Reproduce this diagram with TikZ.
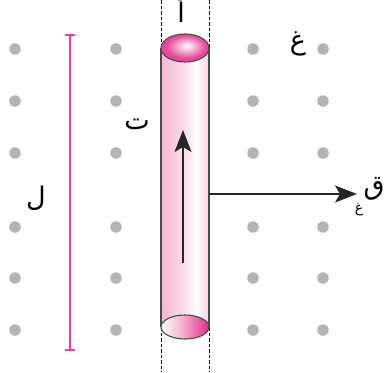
\documentclass[tikz,border=0pt]{standalone}
\usepackage{fontspec}
\newfontfamily\arabicfont[Script=Arabic]{DejaVu Sans}
\TeXXeTstate=1
\usetikzlibrary{arrows.meta}
\definecolor{dotgray}{HTML}{B4B4B8}
\definecolor{rodpink}{HTML}{F4B8D3}
\definecolor{rodmag}{HTML}{E02E8A}
\definecolor{rodedge}{HTML}{4A4A4A}
\definecolor{barpink}{HTML}{EE3C98}
% rod body: pink edges with a bright stripe right of centre
\pgfdeclarehorizontalshading{rodbody}{100bp}{%
  color(0bp)=(rodpink);
  color(25bp)=(rodpink);
  color(50bp)=(rodpink!45!white);
  color(62bp)=(white);
  color(75bp)=(rodpink!65!white);
  color(100bp)=(rodpink)}
% bottom face: pale on the left, magenta on the right
\pgfdeclarehorizontalshading{rodbase}{100bp}{%
  color(0bp)=(white);
  color(25bp)=(white);
  color(45bp)=(rodpink);
  color(75bp)=(rodmag);
  color(100bp)=(rodmag)}
\pgfdeclareradialshading{rodtop}{\pgfpoint{2bp}{4bp}}{%
  color(0bp)=(white);
  color(5bp)=(rodpink!60!white);
  color(20bp)=(rodmag!85!white);
  color(50bp)=(rodmag)}
\tikzset{
  fielddot/.style={circle,fill=dotgray,inner sep=0pt,minimum size=11.5pt},
  lbl/.style={inner sep=0pt,font=\arabicfont\fontsize{27}{30}\selectfont},
  sublbl/.style={inner sep=0pt,font=\arabicfont\fontsize{14}{16}\selectfont},
  rodline/.style={draw=rodedge,line width=1.1pt},
  guide/.style={draw=black,line width=1pt,dash pattern=on 3.5pt off 2pt},
  vec/.style={draw=black!85,line width=1.3pt,-{Stealth[length=22pt,width=17pt,inset=5pt]}},
}
\begin{document}
\begin{tikzpicture}[x=1pt,y=-1pt]
\useasboundingbox (0,0) rectangle (388,372);
\clip (0,0) rectangle (388,372);

% grid of field dots (field lines pointing out of the page)
\foreach \cx in {15,116,253,323}{
  \foreach \cy in {49,101,153,227,278,330}{
    \node[fielddot] at (\cx,\cy) {};
  }
}

% length marker
\draw[barpink,line width=1.1pt] (70,35) -- (70,350);
\draw[barpink,line width=1.1pt] (65,35) -- (75,35);
\draw[barpink,line width=1.1pt] (65,350) -- (75,350);
\node[lbl] (lenlbl) at (36,198) {\beginR ل\endR};

% dashed guides above and below the rod
\draw[guide] (161,0) -- (161,48);
\draw[guide] (209,0) -- (209,48);
\draw[guide] (161,327) -- (161,372);
\draw[guide] (209,327) -- (209,372);

% rod body
\shade[shading=rodbody] (161,48) rectangle (209,327);
\draw[rodline] (161,48) -- (161,327);
\draw[rodline] (209,48) -- (209,327);

% bottom face
\shade[shading=rodbase] (185,327) ellipse [x radius=24, y radius=12];
\draw[rodline] (185,327) ellipse [x radius=24, y radius=12];

% top face
\shade[shading=rodtop] (185,48) ellipse [x radius=24, y radius=14];
\draw[rodline] (185,48) ellipse [x radius=24, y radius=14];

% velocity inside the rod
\coordinate (vtail) at (183,263);
\coordinate (vhead) at (183,130);
\draw[vec] (vtail) -- (vhead);

% force on the charges
\coordinate (ftail) at (209,194);
\coordinate (fhead) at (357,194);
\draw[vec] (ftail) -- (fhead);

% labels
\node[lbl] (toplbl) at (181,9) {\beginR أ\endR};
\node[lbl] (vlbl) at (137,124) {\beginR ت\endR};
\node[lbl] (blbl) at (298,44) {\beginR غ\endR};
\node[lbl] (flbl) at (374,189) {\beginR ق\endR};
\node[sublbl] (fsub) at (359,210) {\beginR غ\endR};
\end{tikzpicture}
\end{document}
